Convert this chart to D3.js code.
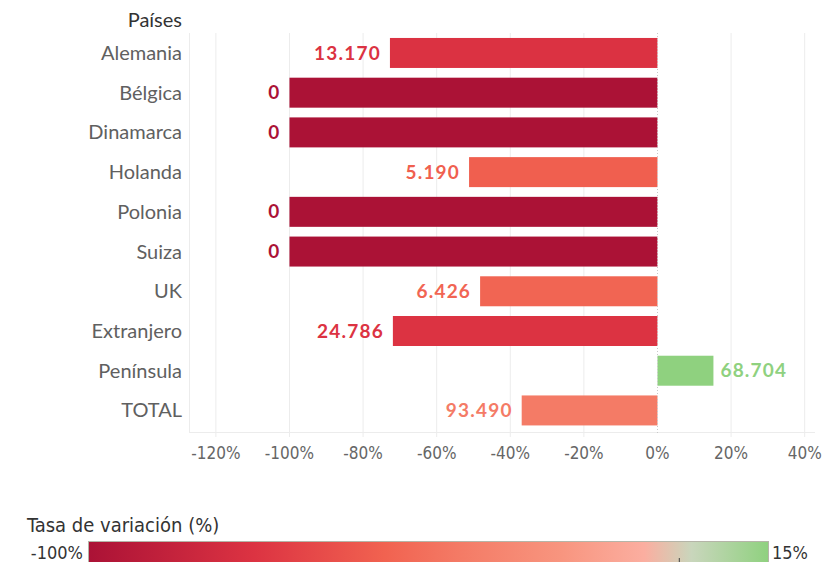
<!DOCTYPE html>
<html>
<head>
<meta charset="utf-8">
<script src="https://cdn.jsdelivr.net/npm/d3@7"></script>
<style>
  body { margin: 0; background: #fff; }
  svg { display: block; }
  .cond { font-family: "DejaVu Sans Condensed", "Liberation Sans Narrow", "DejaVu Sans", sans-serif; font-stretch: condensed; }
</style>
</head>
<body>
<svg id="chart" width="829" height="562"></svg>
<script>
// data
const paises = ['Alemania', 'Bélgica', 'Dinamarca', 'Holanda', 'Polonia', 'Suiza', 'UK', 'Extranjero', 'Península', 'TOTAL'];
const valores = ['13.170', '0', '0', '5.190', '0', '0', '6.426', '24.786', '68.704', '93.490'];
const tasas = [-72.7, -100, -100, -51.2, -100, -100, -48.2, -71.9, 15.2, -36.9];
const ticks = [-120, -100, -80, -60, -40, -20, 0, 20, 40];
const legendDomain = [-100, 15];
const rampValues = [-100, -72, -50, -37, -20, -6, 2, 15];
const rampColors = ['#ab1236', '#dc3342', '#f16250', '#f47b66', '#f8957f', '#fbaea0', '#c9d6bc', '#8fd17f'];

const svg = d3.select('#chart');
const font = 'Lato, sans-serif';

const color = d3.scaleLinear().domain(rampValues).range(rampColors).clamp(true);

const x = d3.scaleLinear().domain([-127.3, 42.8]).range([189, 815]);
const y = d3.scaleBand().domain(paises).range([33.1, 430.3])
  .paddingInner(0.245).paddingOuter(0.1225);

// grid
svg.append('g').selectAll('line').data(ticks.filter(t => t !== 0)).enter()
  .append('line')
  .attr('x1', d => x(d)).attr('x2', d => x(d))
  .attr('y1', 33).attr('y2', 437)
  .attr('stroke', '#ececec').attr('stroke-width', 1);

svg.append('line')
  .attr('x1', 189.5).attr('x2', 189.5).attr('y1', 33).attr('y2', 432)
  .attr('stroke', '#ececec');
svg.append('line')
  .attr('x1', 189).attr('x2', 815).attr('y1', 432.5).attr('y2', 432.5)
  .attr('stroke', '#ececec');

// bars
svg.append('g').selectAll('rect').data(paises).enter()
  .append('rect')
  .attr('x', (d, i) => Math.min(x(0), x(tasas[i])))
  .attr('width', (d, i) => Math.abs(x(tasas[i]) - x(0)))
  .attr('y', d => y(d))
  .attr('height', y.bandwidth())
  .attr('fill', (d, i) => color(tasas[i]));

// zero line
svg.append('line')
  .attr('x1', x(0)).attr('x2', x(0)).attr('y1', 33).attr('y2', 434)
  .attr('stroke', '#c8c8c8').attr('stroke-dasharray', '1,2');

// value labels
svg.append('g').selectAll('text').data(paises).enter()
  .append('text')
  .attr('x', (d, i) => tasas[i] < 0 ? x(tasas[i]) - 9 : x(tasas[i]) + 7)
  .attr('y', d => y(d) + y.bandwidth() / 2)
  .attr('dy', '0.35em')
  .attr('text-anchor', (d, i) => tasas[i] < 0 ? 'end' : 'start')
  .attr('font-family', font).attr('font-weight', 'bold').attr('font-size', 19)
  .attr('letter-spacing', 1.2)
  .attr('fill', (d, i) => color(tasas[i]))
  .text((d, i) => valores[i]);

// category labels
svg.append('g').selectAll('text').data(paises).enter()
  .append('text')
  .attr('x', 182)
  .attr('y', d => y(d) + y.bandwidth() / 2)
  .attr('dy', '0.35em')
  .attr('text-anchor', 'end')
  .attr('font-family', font).attr('font-size', 20)
  .attr('fill', '#606060')
  .text(d => d);

svg.append('text')
  .attr('x', 182).attr('y', 27)
  .attr('text-anchor', 'end')
  .attr('font-family', font).attr('font-size', 20)
  .attr('fill', '#333')
  .text('Países');

// x tick labels
svg.append('g').selectAll('text').data(ticks).enter()
  .append('text')
  .attr('class', 'cond')
  .attr('x', d => x(d))
  .attr('y', 459)
  .attr('text-anchor', 'middle')
  .attr('font-size', 17)
  .attr('fill', '#666')
  .text(d => d + '%');

// legend
const lx = d3.scaleLinear().domain(legendDomain).range([88, 768]);
const grad = svg.append('defs').append('linearGradient')
  .attr('id', 'ramp').attr('x1', '0%').attr('x2', '100%');
grad.selectAll('stop').data(rampValues).enter()
  .append('stop')
  .attr('offset', d => ((lx(d) - 88) / 680 * 100) + '%')
  .attr('stop-color', (d, i) => rampColors[i]);

svg.append('text')
  .attr('class', 'cond')
  .attr('x', 27).attr('y', 532)
  .attr('font-size', 20).attr('fill', '#333')
  .text('Tasa de variación (%)');

svg.append('rect')
  .attr('x', 88.5).attr('y', 541.5).attr('width', 680).attr('height', 30)
  .attr('fill', 'url(#ramp)')
  .attr('stroke', '#b5b5a8').attr('stroke-width', 1);

svg.append('line')
  .attr('x1', lx(0)).attr('x2', lx(0)).attr('y1', 558).attr('y2', 562)
  .attr('stroke', '#444');

svg.append('text')
  .attr('class', 'cond')
  .attr('x', 83).attr('y', 559)
  .attr('text-anchor', 'end')
  .attr('font-size', 18).attr('fill', '#333')
  .text(legendDomain[0] + '%');

svg.append('text')
  .attr('class', 'cond')
  .attr('x', 772).attr('y', 559)
  .attr('font-size', 18).attr('fill', '#333')
  .text(legendDomain[1] + '%');
</script>
</body>
</html>
